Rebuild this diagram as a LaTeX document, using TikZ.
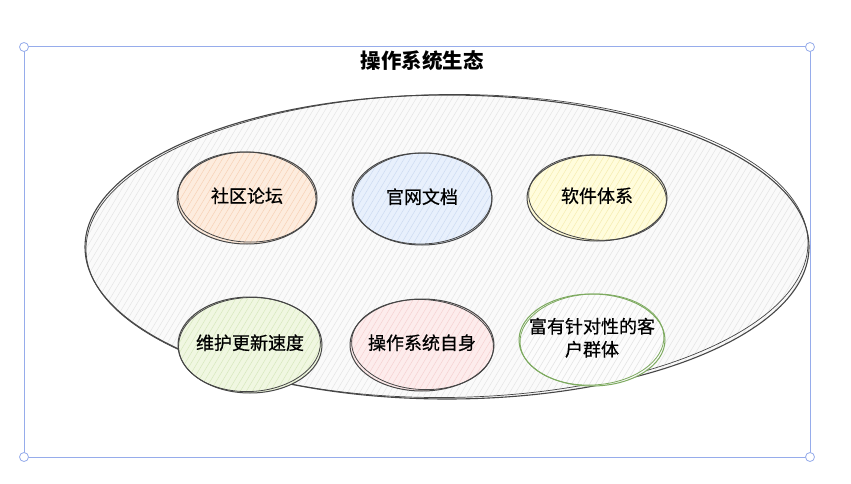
\documentclass[tikz,border=0pt]{standalone}
\usepackage{fontspec}
\setmainfont{Noto Sans CJK SC}
\newfontfamily\medfont[FakeBold=0.6]{Noto Sans CJK SC}
\usetikzlibrary{shapes.geometric}
\definecolor{frameblue}{RGB}{150,172,235}
\definecolor{inkgray}{RGB}{70,70,70}
\definecolor{bigfill}{RGB}{250,250,250}
\definecolor{bighach}{RGB}{228,228,228}
\definecolor{orfill}{RGB}{253,236,222}
\definecolor{orhach}{RGB}{246,208,180}
\definecolor{blfill}{RGB}{232,240,252}
\definecolor{blhach}{RGB}{203,217,240}
\definecolor{yefill}{RGB}{255,252,220}
\definecolor{yehach}{RGB}{245,236,175}
\definecolor{grfill}{RGB}{240,247,225}
\definecolor{grhach}{RGB}{214,231,188}
\definecolor{pkfill}{RGB}{253,236,236}
\definecolor{pkhach}{RGB}{245,208,208}
\definecolor{wtfill}{RGB}{252,252,252}
\definecolor{wthach}{RGB}{226,226,226}
\definecolor{greenink}{RGB}{125,170,95}
\newcommand{\myhach}[6]{%
  \begin{scope}
    \clip (#1,#2) ellipse [x radius=#3, y radius=#4];
    \fill[#5] (#1,#2) ellipse [x radius=#3, y radius=#4];
    \foreach \k in {-65,...,65}{
      \draw[#6, line width=0.5pt] ({#1+\k*6-#4*0.6},{#2+#4}) -- ({#1+\k*6+#4*0.6},{#2-#4});
    }
  \end{scope}}
\newcommand{\bubtext}[1]{\makebox[0pt]{\begin{tabular}{@{}c@{}}#1\end{tabular}}}
\tikzset{
  bubble/.style={ellipse, draw=inkgray, line width=1pt, font=\medfont\fontsize{18}{23}\selectfont, inner sep=0pt},
  sketch/.style={draw=inkgray, line width=0.8pt},
  handle/.style={circle, draw=frameblue, fill=white, line width=0.8pt, minimum size=9pt, inner sep=0pt}
}
\begin{document}
\begin{tikzpicture}[x=1pt,y=-1pt]
\useasboundingbox (0,0) rectangle (851,484);
\fill[white] (0,0) rectangle (851,484);
% selection frame
\coordinate (c1) at (24,47);
\coordinate (c2) at (810,47);
\coordinate (c3) at (810,457);
\coordinate (c4) at (24,457);
\draw[frameblue, line width=1pt] (c1) -- (c2) -- (c3) -- (c4) -- cycle;
\node[handle] (h1) at (c1) {};
\node[handle] (h2) at (c2) {};
\node[handle] (h3) at (c3) {};
\node[handle] (h4) at (c4) {};
% title
\node[font=\fontsize{20.5}{23}\selectfont\bfseries] (title) at (422,61) {操作系统生态};
% big ellipse
\myhach{447}{247}{362}{152}{bigfill}{bighach}
\node[ellipse, minimum width=724pt, minimum height=304pt, inner sep=0pt] (eco) at (447,247) {};
\draw[inkgray, line width=1.1pt] (447,247) ellipse [x radius=362, y radius=152];
\draw[inkgray, line width=0.7pt, rotate around={0.6:(447,247)}] (447,246) ellipse [x radius=361, y radius=151.5];
% small bubbles
\myhach{247}{198}{70}{46}{orfill}{orhach}
\myhach{422}{199}{70}{46}{blfill}{blhach}
\myhach{597}{198}{70}{43}{yefill}{yehach}
\myhach{250}{345}{72}{48}{grfill}{grhach}
\myhach{422}{345}{72}{46}{pkfill}{pkhach}
\myhach{592}{340}{73}{46}{wtfill}{wthach}
\node[bubble, minimum width=140pt, minimum height=92pt] (forum) at (247,198) {\bubtext{社区论坛}};
\draw[sketch, rotate around={-3:(247,198)}] (247,197) ellipse [x radius=69, y radius=45];
\node[bubble, minimum width=140pt, minimum height=92pt] (docs) at (422,199) {\bubtext{官网文档}};
\draw[sketch, rotate around={2:(422,199)}] (422.5,198.5) ellipse [x radius=69.5, y radius=45.5];
\node[bubble, minimum width=140pt, minimum height=86pt] (soft) at (597,198) {\bubtext{软件体系}};
\draw[sketch, rotate around={-4:(597,198)}] (597.5,197.5) ellipse [x radius=69, y radius=42.5];
\node[bubble, minimum width=144pt, minimum height=96pt] (maint) at (250,345) {\bubtext{维护更新速度}};
\draw[sketch, rotate around={2.5:(250,345)}] (249.5,344.5) ellipse [x radius=71, y radius=47];
\node[bubble, minimum width=144pt, minimum height=92pt] (self) at (422,345) {\bubtext{操作系统自身}};
\draw[sketch, rotate around={-3:(422,345)}] (422.5,344.5) ellipse [x radius=71, y radius=45];
\node[bubble, draw=greenink, minimum width=146pt, minimum height=92pt] (users) at (592,340) {\bubtext{富有针对性的客\\户群体}};
\draw[greenink, line width=0.8pt, rotate around={3:(592,340)}] (592,339.5) ellipse [x radius=72, y radius=45.5];
\end{tikzpicture}
\end{document}
